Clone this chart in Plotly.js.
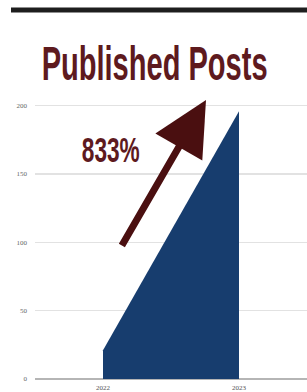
<!DOCTYPE html>
<html>
<head>
<meta charset="utf-8">
<script src="https://cdn.plot.ly/plotly-3.0.1.min.js"></script>
<style>
html,body{margin:0;padding:0;background:#fff;}
#chart{width:307px;height:392px;}
</style>
</head>
<body>
<div id="chart"></div>
<script>
// ---- data ----
var years = ['2022', '2023'];
var posts = [21, 196];
var yTicks = [0, 50, 100, 150, 200];
var titleText = 'Published Posts';
var growthLabel = '833%';

var W = 307, H = 392;
var L = 35, R = 0, T = 92, B = 13;
var pw = W - L - R, ph = H - T - B;
function px(x){ return (x - L) / pw; }
function py(y){ return (H - B - y) / ph; }

var trace = {
  x: years,
  y: posts,
  type: 'scatter',
  mode: 'none',
  fill: 'tozeroy',
  fillcolor: '#173d6e',
  hoverinfo: 'skip'
};

var layout = {
  width: W, height: H,
  margin: {l: L, r: R, t: T, b: B, pad: 0},
  paper_bgcolor: '#ffffff',
  plot_bgcolor: '#ffffff',
  showlegend: false,
  xaxis: {
    type: 'category',
    range: [-0.5, 1.5],
    showgrid: false,
    zeroline: false,
    showline: false,
    ticks: '',
    tickfont: {family: 'Liberation Serif', size: 7, color: '#555'},
    ticklabelstandoff: 3
  },
  yaxis: {
    range: [0, 210],
    tickvals: yTicks,
    ticktext: yTicks.map(String),
    showgrid: true,
    gridcolor: '#e2e2e2',
    gridwidth: 1.5,
    zeroline: true,
    zerolinecolor: '#b5b5b5',
    zerolinewidth: 1.5,
    ticks: '',
    tickfont: {family: 'Liberation Serif', size: 7, color: '#666'},
    ticklabelstandoff: 7
  },
  shapes: [{
    type: 'rect', xref: 'paper', yref: 'paper',
    x0: px(11), x1: px(307), y0: py(12.5), y1: py(7.5),
    fillcolor: '#1e1e1e', line: {width: 0}
  }],
  annotations: [
    {
      text: titleText, xref: 'paper', yref: 'paper',
      x: px(154), y: py(62.5), xanchor: 'center', yanchor: 'middle',
      showarrow: false,
      font: {family: 'Liberation Sans', size: 49, color: '#5e1a1e', weight: 'bold'}
    },
    {
      text: growthLabel, xref: 'paper', yref: 'paper',
      x: px(111), y: py(149.7), xanchor: 'center', yanchor: 'middle',
      showarrow: false,
      font: {family: 'Liberation Sans', size: 35, color: '#5e1a1e', weight: 'bold'}
    },
    {
      text: '', xref: 'paper', yref: 'paper',
      x: px(206), y: py(100),
      showarrow: true, arrowhead: 2, arrowsize: 1.55, arrowwidth: 7,
      arrowcolor: '#4a0f10',
      ax: 121 - 206, ay: 247 - 100,
      standoff: 0
    }
  ]
};

function squeeze(t, target){
  var bb = t.getBBox();
  var cx = bb.x + bb.width / 2;
  var sx = target / bb.width;
  t.setAttribute('transform', 'translate(' + cx + ',0) scale(' + sx + ',1) translate(' + (-cx) + ',0)');
}

Plotly.newPlot('chart', [trace], layout, {staticPlot: true, displayModeBar: false}).then(function(){
  var texts = document.querySelectorAll('.annotation-text');
  texts.forEach(function(t){
    if (t.textContent === titleText) squeeze(t, 226);
    else if (t.textContent === growthLabel) squeeze(t, 58);
  });
});
</script>
</body>
</html>
